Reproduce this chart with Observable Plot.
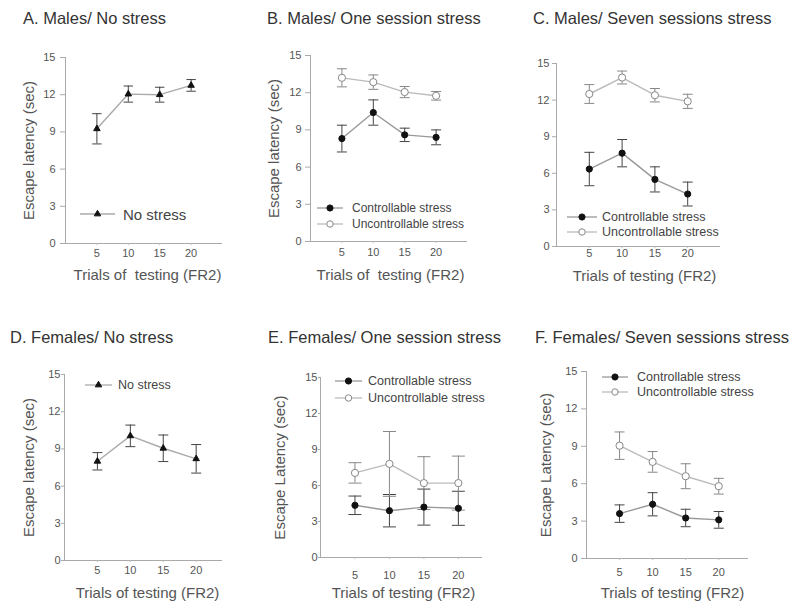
<!DOCTYPE html>
<html><head><meta charset="utf-8">
<script src="https://cdn.jsdelivr.net/npm/d3@7"></script>
<script src="https://cdn.jsdelivr.net/npm/@observablehq/plot@0.6"></script>
<style>
body{margin:0;background:#fff;}
#root{position:relative;width:800px;height:604px;overflow:hidden;font-family:"Liberation Sans",Arial,sans-serif;background:#fff;}
.title{position:absolute;font-size:16.5px;color:#333;white-space:nowrap;line-height:1;}
.panel{position:absolute;}
.leg{position:absolute;display:flex;align-items:center;white-space:nowrap;color:#444;line-height:1;}
.leg svg{display:block;overflow:visible;}
</style></head><body><div id="root"></div>
<script>
// ---------- data ----------
const trials = [5, 10, 15, 20];
const yTicks = [0, 3, 6, 9, 12, 15];
const xTicks = [5, 10, 15, 20];
const panelTitles = ["A. Males/ No stress", "B. Males/ One session stress", "C. Males/ Seven sessions stress",
  "D. Females/ No stress", "E. Females/ One session stress", "F. Females/ Seven sessions stress"];
const seriesNames = {none: "No stress", ctrl: "Controllable stress", unc: "Uncontrollable stress"};
const xLabel1 = "Trials of  testing (FR2)";
const xLabel2 = "Trials of testing (FR2)";
const yLabel1 = "Escape latency (sec)";
const yLabel2 = "Escape Latency (sec)";

const aNone = [9.25, 12.05, 12.0, 12.75];
const aNoneErr = [1.22, 0.65, 0.6, 0.47];
const bCtrl = [8.3, 10.4, 8.6, 8.4];
const bCtrlErr = [1.08, 1.02, 0.54, 0.6];
const bUnc = [13.2, 12.85, 12.05, 11.75];
const bUncErr = [0.73, 0.58, 0.45, 0.35];
const cCtrl = [6.35, 7.65, 5.5, 4.3];
const cCtrlErr = [1.37, 1.12, 1.03, 0.98];
const cUnc = [12.5, 13.85, 12.4, 11.9];
const cUncErr = [0.77, 0.53, 0.55, 0.58];
const dNone = [8.0, 10.05, 9.05, 8.2];
const dNoneErr = [0.7, 0.87, 1.07, 1.15];
const eCtrl = [4.35, 3.9, 4.2, 4.1];
const eCtrlErr = [0.77, 1.35, 1.5, 1.42];
const eUnc = [7.05, 7.8, 6.2, 6.2];
const eUncErr = [0.85, 2.7, 2.2, 2.25];
const fCtrl = [3.6, 4.35, 3.25, 3.1];
const fCtrlErr = [0.7, 0.93, 0.7, 0.67];
const fUnc = [9.05, 7.75, 6.6, 5.8];
const fUncErr = [1.1, 0.83, 1.0, 0.63];

// ---------- styles ----------
const FONT = '"Liberation Sans", Arial, sans-serif';
const style = {
  none: {line: "#aaa", bar: "#444", symbol: "triangle", fill: "#111", stroke: "#111", r: 2.4},
  ctrl: {line: "#999", bar: "#444", symbol: "circle", fill: "#111", stroke: "#111", r: 3.1},
  unc:  {line: "#bbb", bar: "#888", symbol: "circle", fill: "#fff", stroke: "#888", r: 3.6}
};
const capSymbol = {draw(ctx, size) { const w = Math.sqrt(size / Math.PI); ctx.moveTo(-w, 0); ctx.lineTo(w, 0); }};

const panels = [
  {title: panelTitles[0], tx: 23, ty: 10, rx: 0, ry: 0, rw: 260, rh: 300, fl: 65, fr: 222, ft: 57, fb: 243, xDomain: [0, 25],
   yTick: [5, 5], xPad: 6, yLabel: yLabel1, yLabelX: 29, xLabel: xLabel1, xLabelX: 147, xLabelY: 275, cap: 4.7,
   series: [{kind: "none", mean: aNone, err: aNoneErr}],
   legend: {x1: 80, x2: 115, tx: 123, ys: [214], fs: 15}},
  {title: panelTitles[1], tx: 267, ty: 10, rx: 260, ry: 0, rw: 270, rh: 300, fl: 310, fr: 467, ft: 55, fb: 241, xDomain: [0, 25],
   yTick: [5, 4], xPad: 6.5, yLabel: yLabel1, yLabelX: 274, xLabel: xLabel1, xLabelX: 390, xLabelY: 275, cap: 5,
   series: [{kind: "ctrl", mean: bCtrl, err: bCtrlErr}, {kind: "unc", mean: bUnc, err: bUncErr}],
   legend: {x1: 317, x2: 343, tx: 352, ys: [208, 224], fs: 12}},
  {title: panelTitles[2], tx: 533, ty: 10, rx: 530, ry: 0, rw: 270, rh: 300, fl: 556, fr: 720, ft: 63, fb: 246, xDomain: [0, 25],
   yTick: [4, 3], xPad: 3, yLabel: null, xLabel: xLabel2, xLabelX: 644, xLabelY: 276, cap: 5,
   series: [{kind: "ctrl", mean: cCtrl, err: cCtrlErr}, {kind: "unc", mean: cUnc, err: cUncErr}],
   legend: {x1: 567, x2: 597, tx: 602, ys: [217, 232], fs: 12.5}},
  {title: panelTitles[3], tx: 10, ty: 329, rx: 0, ry: 300, rw: 260, rh: 304, fl: 64, fr: 222, ft: 374, fb: 560, xDomain: [0, 24],
   yTick: [3, 1], xPad: 6, yLabel: yLabel1, yLabelX: 29, xLabel: xLabel2, xLabelX: 147, xLabelY: 593, cap: 5,
   series: [{kind: "none", mean: dNone, err: dNoneErr}],
   legend: {x1: 85, x2: 112, tx: 118, ys: [385], fs: 12.5}},
  {title: panelTitles[4], tx: 268, ty: 329, rx: 260, ry: 300, rw: 270, rh: 304, fl: 320, fr: 482, ft: 377, fb: 557, xDomain: [0, 23.5],
   yTick: [2, 1], xPad: 14, yLabel: yLabel2, yLabelX: 280, xLabel: xLabel2, xLabelX: 403, xLabelY: 593, cap: 6.5,
   series: [{kind: "ctrl", mean: eCtrl, err: eCtrlErr}, {kind: "unc", mean: eUnc, err: eUncErr}],
   legend: {x1: 335, x2: 362, tx: 368, ys: [381, 398], fs: 12.5}},
  {title: panelTitles[5], tx: 535, ty: 329, rx: 530, ry: 300, rw: 270, rh: 304, fl: 586, fr: 748, ft: 371, fb: 558, xDomain: [0, 24.5],
   yTick: [5, 4], xPad: 9.5, yLabel: yLabel2, yLabelX: 546, xLabel: xLabel2, xLabelX: 672, xLabelY: 593, cap: 5,
   series: [{kind: "ctrl", mean: fCtrl, err: fCtrlErr}, {kind: "unc", mean: fUnc, err: fUncErr}],
   legend: {x1: 602, x2: 628, tx: 637, ys: [377, 392], fs: 12.5}}
];

const root = document.getElementById("root");

function legendSwatch(kind, w) {
  const s = style[kind];
  const ns = "http://www.w3.org/2000/svg";
  const svg = document.createElementNS(ns, "svg");
  svg.setAttribute("width", w); svg.setAttribute("height", 10);
  const line = document.createElementNS(ns, "line");
  line.setAttribute("x1", 0); line.setAttribute("x2", w); line.setAttribute("y1", 5); line.setAttribute("y2", 5);
  line.setAttribute("stroke", s.line); line.setAttribute("stroke-width", 1.3);
  svg.appendChild(line);
  const p = document.createElementNS(ns, "path");
  const sym = s.symbol === "triangle" ? d3.symbolTriangle : d3.symbolCircle;
  p.setAttribute("d", d3.symbol(sym, s.r * s.r * Math.PI * (kind === "unc" ? 0.8 : 1))());
  p.setAttribute("transform", `translate(${w / 2},5)`);
  p.setAttribute("fill", s.fill); p.setAttribute("stroke", s.stroke);
  svg.appendChild(p);
  return svg;
}

for (const p of panels) {
  const rows = [];
  for (const s of p.series) trials.forEach((t, i) => rows.push({kind: s.kind, x: t, y: s.mean[i], lo: s.mean[i] - s.err[i], hi: s.mean[i] + s.err[i]}));
  const ml = p.fl - p.rx, mr = p.rx + p.rw - p.fr, mt = p.ft - p.ry, mb = p.ry + p.rh - p.fb;
  const marks = [
    Plot.ruleX([p.xDomain[0]], {stroke: "#aaa"}),
    Plot.ruleY([0], {stroke: "#aaa"}),
    Plot.axisY({ticks: yTicks, tickSize: p.yTick[0], tickPadding: p.yTick[1], fontSize: 11, stroke: "#aaa", fill: "#555", label: null}),
    Plot.axisX({ticks: xTicks, tickSize: 2, tickPadding: p.xPad - 2, fontSize: 11, stroke: "#bbb", fill: "#555", label: null})
  ];
  for (const s of p.series) {
    const st = style[s.kind];
    const d = rows.filter(r => r.kind === s.kind);
    marks.push(Plot.line(d, {x: "x", y: "y", stroke: st.line, strokeWidth: 1.4}));
    marks.push(Plot.ruleX(d, {x: "x", y1: "lo", y2: "hi", stroke: st.bar, strokeWidth: 1}));
    marks.push(Plot.dot(d, {x: "x", y: "lo", symbol: capSymbol, r: p.cap, stroke: st.bar, strokeWidth: 1}));
    marks.push(Plot.dot(d, {x: "x", y: "hi", symbol: capSymbol, r: p.cap, stroke: st.bar, strokeWidth: 1}));
  }
  for (const s of p.series) {
    const st = style[s.kind];
    const d = rows.filter(r => r.kind === s.kind);
    marks.push(Plot.dot(d, {x: "x", y: "y", symbol: st.symbol, r: st.r, fill: st.fill, stroke: st.stroke, strokeWidth: 1}));
  }
  if (p.yLabel) marks.push(Plot.text([p.yLabel], {frameAnchor: "left", textAnchor: "middle", lineAnchor: "middle", rotate: -90, dx: p.yLabelX - p.fl, fontSize: 15, fill: "#555", text: d => d}));
  marks.push(Plot.text([p.xLabel], {frameAnchor: "bottom", textAnchor: "middle", lineAnchor: "middle", dy: p.xLabelY - p.fb, dx: p.xLabelX - (p.fl + p.fr) / 2, fontSize: 15, fill: "#555", text: d => d}));

  const chart = Plot.plot({
    width: p.rw, height: p.rh,
    marginLeft: ml, marginRight: mr, marginTop: mt, marginBottom: mb,
    x: {domain: p.xDomain},
    y: {domain: [0, 15]},
    style: {fontFamily: FONT, background: "transparent", overflow: "visible"},
    marks
  });
  const div = document.createElement("div");
  div.className = "panel";
  div.style.left = p.rx + "px"; div.style.top = p.ry + "px";
  div.appendChild(chart);
  root.appendChild(div);

  const t = document.createElement("div");
  t.className = "title"; t.textContent = p.title;
  t.style.left = p.tx + "px"; t.style.top = p.ty + "px";
  root.appendChild(t);

  p.series.forEach((s, i) => {
    const L = p.legend;
    const row = document.createElement("div");
    row.className = "leg";
    row.style.left = L.x1 + "px";
    row.style.top = (L.ys[i] - 8) + "px";
    row.style.height = "16px";
    row.style.fontSize = L.fs + "px";
    row.appendChild(legendSwatch(s.kind, L.x2 - L.x1));
    const span = document.createElement("span");
    span.style.marginLeft = (L.tx - L.x2) + "px";
    span.textContent = seriesNames[s.kind];
    row.appendChild(span);
    root.appendChild(row);
  });
}
</script></body></html>
